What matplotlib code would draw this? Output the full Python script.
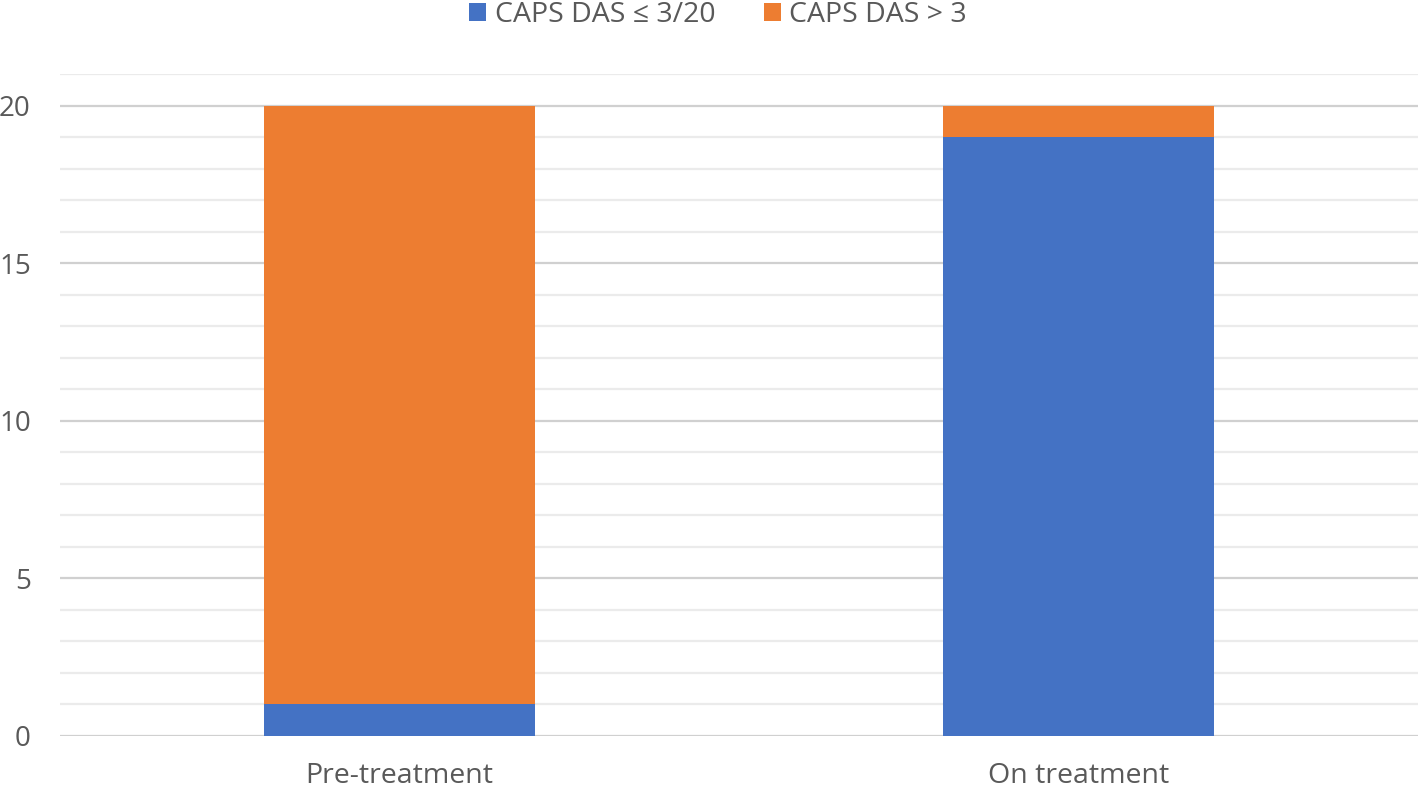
import numpy as np
import matplotlib.pyplot as plt
from matplotlib.ticker import MultipleLocator

categories = ['Pre-treatment', 'On treatment']
das_low = [1, 19]
das_high = [19, 1]
series_labels = ['CAPS DAS \u2264 3/20', 'CAPS DAS > 3']

plt.rcParams['font.family'] = ['Open Sans', 'DejaVu Sans']

fig = plt.figure(figsize=(14.18, 7.87), dpi=100)
ax = fig.add_axes([60 / 1418, 1 - 736 / 787, 1 - 60 / 1418, (736 - 74) / 787])

x = np.arange(len(categories))
ax.bar(x, das_low, width=0.4, color='#4472C4', label=series_labels[0], zorder=3)
ax.bar(x, das_high, width=0.4, bottom=das_low, color='#ED7D31', label=series_labels[1], zorder=3)

ax.set_xlim(-0.5, 1.5)
ax.set_ylim(0, 21)
ax.yaxis.set_major_locator(MultipleLocator(5))
ax.yaxis.set_minor_locator(MultipleLocator(1))
ax.grid(axis='y', which='major', color='#d0d0d0', linewidth=1.6, zorder=0)
ax.grid(axis='y', which='minor', color='#ebebeb', linewidth=1.6, zorder=0)
ax.set_xticks(x)
ax.set_xticklabels(categories)
ax.tick_params(axis='both', which='both', length=0, colors='#595959')
ax.tick_params(axis='y', labelsize=20, pad=21)
ax.tick_params(axis='x', labelsize=20.5, pad=19)
for s in ax.spines.values():
    s.set_visible(False)

fig.legend(loc='center', bbox_to_anchor=(718 / 1418, 1 - 15 / 787), ncol=2, frameon=False,
           fontsize=20.5, labelcolor='#595959', handlelength=0.6, handleheight=0.6,
           handletextpad=0.3, columnspacing=1.7, borderpad=0)

fig.savefig('out.png', dpi=100)
